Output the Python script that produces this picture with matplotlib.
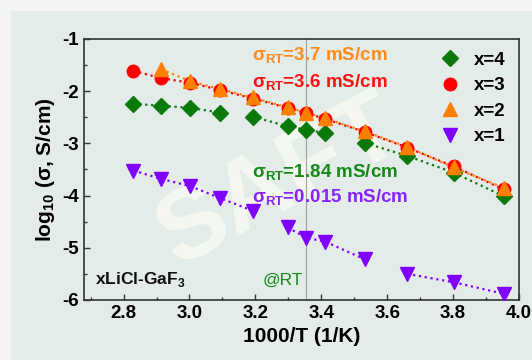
import matplotlib.pyplot as plt
from matplotlib.patches import Rectangle
from matplotlib.ticker import MultipleLocator

plt.rcParams['font.family'] = ['Liberation Sans', 'DejaVu Sans']
plt.rcParams['mathtext.fontset'] = 'custom'
plt.rcParams['mathtext.rm'] = 'Liberation Sans'
plt.rcParams['mathtext.bf'] = 'Liberation Sans:bold'
plt.rcParams['axes.unicode_minus'] = False

# 1000/T values (1/K)
inv_T = [2.83, 2.914, 3.003, 3.094, 3.192, 3.298, 3.355, 3.411, 3.532, 3.661, 3.802, 3.953]

# log10(sigma) for each composition
x4 = [-2.24, -2.28, -2.32, -2.41, -2.49, -2.67, -2.74, -2.80, -2.99, -3.24, -3.56, -4.01]
x3 = [-1.61, -1.75, -1.84, -1.98, -2.14, -2.32, -2.42, -2.53, -2.78, -3.08, -3.44, -3.88]
x2 = [None, -1.58, -1.81, -1.96, -2.12, -2.31, -2.41, -2.52, -2.77, -3.07, -3.46, -3.85]
x1 = [-3.52, -3.68, -3.82, -4.05, -4.29, -4.61, -4.81, -4.88, -5.22, -5.5, -5.66, -5.88]

# groups of points joined by dotted lines
x4_groups = [(0, 4), (4, 8), (8, 12)]
x1_groups = [(0, 5), (5, 9), (9, 12)]

green = '#0a7a0a'
red = '#ff0000'
orange = '#ff8000'
purple = '#8000ff'

fig = plt.figure(figsize=(5.32, 3.6), dpi=100)
fig.patch.set_facecolor('#f4f4f4')
fig.patches.append(Rectangle((11 / 532, 0), 1, 1 - 11 / 360, transform=fig.transFigure,
                             facecolor='#e4ece9', edgecolor='none', zorder=-10))
ax = fig.add_axes([84 / 532, 60 / 360, 435 / 532, 261 / 360])
ax.set_facecolor('none')

# watermark
ax.text(0.45, 0.45, 'SAFT', transform=ax.transAxes, fontsize=72, fontweight='bold',
        color='#fffff4', alpha=0.6, rotation=28, ha='center', va='center', zorder=1)

ax.axvline(3.355, color='#a0a0a0', lw=0.8, zorder=1)

for a, b in x4_groups:
    ax.plot(inv_T[a:b], x4[a:b], ':', color=green, lw=1.6, zorder=2)
for a, b in x1_groups:
    ax.plot(inv_T[a:b], x1[a:b], ':', color=purple, lw=1.6, zorder=2)
ax.plot(inv_T, x3, ':', color=red, lw=1.6, zorder=2)
ax.plot(inv_T[1:], x2[1:], ':', color=orange, lw=1.6, zorder=2)

h4, = ax.plot(inv_T, x4, 'D', color=green, ms=8.5, ls='none', zorder=3)
h3, = ax.plot(inv_T, x3, 'o', color=red, ms=9, ls='none', zorder=3)
h2, = ax.plot(inv_T[1:], x2[1:], '^', color=orange, ms=9.5, ls='none', zorder=4)
h1, = ax.plot(inv_T, x1, 'v', color=purple, ms=9.5, ls='none', zorder=3)

leg = ax.legend([h4, h3, h2, h1], ['x=4', 'x=3', 'x=2', 'x=1'], loc='upper right',
                frameon=False, prop={'weight': 'bold', 'size': 13.5}, handletextpad=0.7,
                handlelength=1.2, labelspacing=0.45, borderaxespad=0.2,
                bbox_to_anchor=(0.995, 0.995))

tprops = dict(fontsize=13.5, fontweight='bold', va='center', ha='left', zorder=5)
ax.text(3.19, -1.31, r'$\mathbf{\sigma_{RT}}$=3.7 mS/cm', color='#ff8a1a', **tprops)
ax.text(3.19, -1.82, r'$\mathbf{\sigma_{RT}}$=3.6 mS/cm', color='#ff1010', **tprops)
ax.text(3.19, -3.55, r'$\mathbf{\sigma_{RT}}$=1.84 mS/cm', color='#168a16', **tprops)
ax.text(3.19, -4.03, r'$\mathbf{\sigma_{RT}}$=0.015 mS/cm', color='#8a22ff', **tprops)
ax.text(2.713, -5.6, r'xLiCl-GaF$_\mathbf{3}$', fontsize=12.5, fontweight='bold',
        va='center', ha='left', color='#111111')
ax.text(3.223, -5.62, '@RT', fontsize=12.5, va='center', ha='left', color='#168a16')

ax.set_xlim(2.68, 4.0)
ax.set_ylim(-6, -1)
ax.xaxis.set_major_locator(MultipleLocator(0.2))
ax.xaxis.set_minor_locator(MultipleLocator(0.1))
ax.yaxis.set_major_locator(MultipleLocator(1))
ax.yaxis.set_minor_locator(MultipleLocator(0.5))
ax.set_xticks([2.8, 3.0, 3.2, 3.4, 3.6, 3.8, 4.0])
ax.set_xticklabels(['2.8', '3.0', '3.2', '3.4', '3.6', '3.8', '4.0'])
ax.tick_params(which='both', direction='in', labelsize=13.5, width=1, color='#333333')
ax.tick_params(which='major', length=4)
ax.tick_params(which='minor', length=2.5)
for lab in ax.get_xticklabels() + ax.get_yticklabels():
    lab.set_fontweight('bold')
for s in ax.spines.values():
    s.set_linewidth(1.2)
    s.set_color('#333333')

ax.set_xlabel('1000/T (1/K)', fontsize=15, fontweight='bold', labelpad=4)
ax.set_ylabel(r'log$_\mathbf{10}$ ($\mathbf{\sigma}$, S/cm)', fontsize=15, fontweight='bold', labelpad=4)

fig.savefig('out.png', dpi=100, facecolor=fig.get_facecolor())
